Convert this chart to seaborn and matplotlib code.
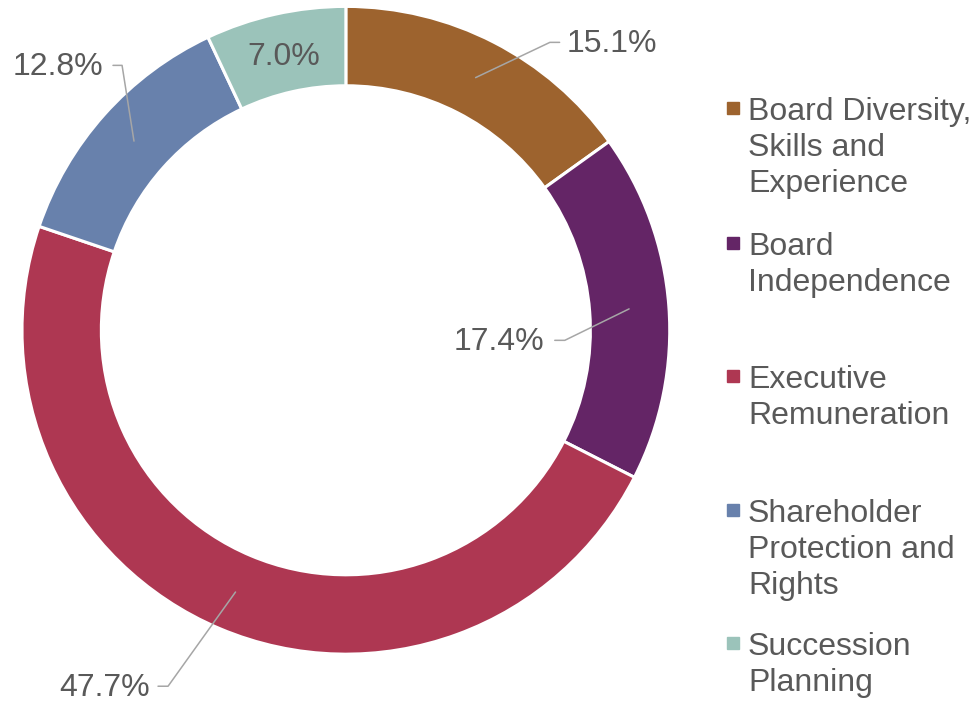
import matplotlib.pyplot as plt
import numpy as np
import seaborn as sns

# data
categories = ["Board Diversity,\nSkills and\nExperience", "Board\nIndependence",
              "Executive\nRemuneration", "Shareholder\nProtection and\nRights",
              "Succession\nPlanning"]
shares = [15.1, 17.4, 47.7, 12.8, 7.0]
colors = ["#9D632E", "#642566", "#AE3752", "#6881AC", "#9BC3BA"]

sns.set_theme(style="white")
plt.rcParams['font.family'] = ['Liberation Sans', 'DejaVu Sans']
text_grey = "#595959"
line_grey = "#A6A6A6"
fs = 23

fig = plt.figure(figsize=(9.77, 7.02), dpi=100)
ax = fig.add_axes([0.0225, 0.068, 0.663, 0.923])

wedges, _ = ax.pie(shares, colors=sns.color_palette(colors), startangle=90,
                   counterclock=False, radius=1.0,
                   wedgeprops=dict(width=0.245, edgecolor="white", linewidth=2.2))
ax.set_xlim(-1, 1)
ax.set_ylim(-1, 1)
ax.set_aspect("equal")
ax.axis("off")

# label layout: (elbow x, elbow y, end x, text x, ha) per slice; None = inside
label_layout = [
    (0.63, 0.889, 0.66, 0.683, "left"),
    (0.676, -0.031, 0.645, 0.614, "right"),
    (-0.549, -1.099, -0.58, -0.605, "right"),
    (-0.691, 0.818, -0.719, -0.75, "right"),
    None,
]

for w, val, lay in zip(wedges, shares, label_layout):
    mid = np.deg2rad((w.theta1 + w.theta2) / 2)
    ax_x, ax_y = 0.877 * np.cos(mid), 0.877 * np.sin(mid)
    if lay is None:
        ax.text(ax_x, ax_y - 0.012, f"{val:.1f}%", ha="center", va="center",
                fontsize=fs, color=text_grey)
        continue
    ex, ey, endx, tx, ha = lay
    ax.plot([ax_x, ex, endx], [ax_y, ey, ey], color=line_grey, lw=1.1,
            clip_on=False)
    ax.text(tx, ey - 0.006, f"{val:.1f}%", ha=ha, va="center", fontsize=fs,
            color=text_grey)

# legend, marker aligned with the first line of each entry
first_line_px = [108, 243, 376, 510, 643]
for lab, col, ypx in zip(categories, colors, first_line_px):
    yf = 1 - ypx / 702
    fig.patches.append(plt.Rectangle((727 / 977, yf - 6 / 702), 12 / 977, 12 / 702,
                                     transform=fig.transFigure, color=col))
    fig.text(748 / 977, yf + 11 / 702, lab, ha="left", va="top", fontsize=fs,
             color=text_grey, linespacing=1.27)

fig.savefig("out.png", dpi=100)
